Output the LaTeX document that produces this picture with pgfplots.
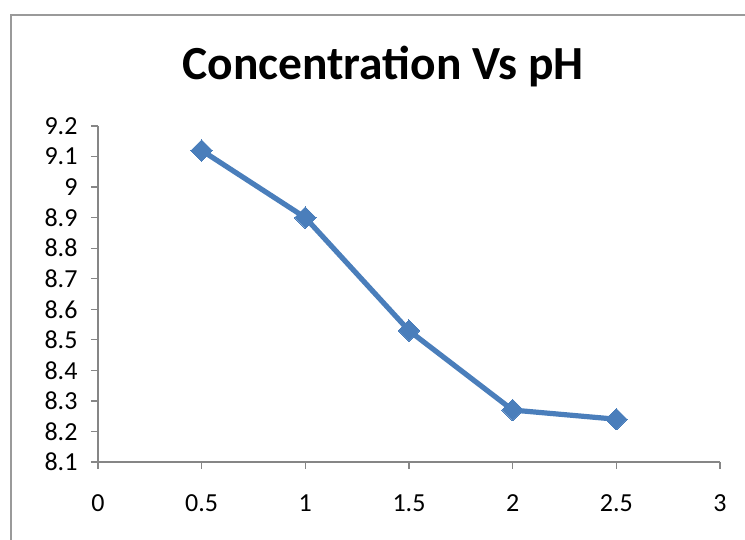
\documentclass[border=0pt]{standalone}
\usepackage{pgfplots}
\pgfplotsset{compat=1.18}
\usepackage{fontspec}
\setmainfont{Carlito}
\definecolor{serblue}{HTML}{4A7EBB}
\definecolor{axgray}{HTML}{868686}
\definecolor{framegray}{HTML}{9A9A9A}

\begin{document}
\begin{tikzpicture}[x=1pt,y=1pt]
    % picture area, in pixels of the reference, origin at the axis' lower left corner
    \useasboundingbox (-98,-78) rectangle (647,462);
    \draw[framegray, line width=1.6pt] (-87,-80) -- (-87,447) -- (650,447);
    \node[font=\bfseries\fontsize{47.5}{47.5}\selectfont, anchor=base] at (285,382) {Concentration Vs pH};
    \begin{axis}[
        width=622pt, height=336pt, scale only axis,
        xmin=0, xmax=3, ymin=8.1, ymax=9.2,
        xtick={0,0.5,1,1.5,2,2.5,3},
        ytick={8.1,8.2,8.3,8.4,8.5,8.6,8.7,8.8,8.9,9,9.1,9.2},
        axis x line*=bottom, axis y line*=left,
        axis line style={axgray, line width=1.2pt},
        tick style={axgray, line width=1.2pt},
        tick align=outside, major tick length=7pt,
        /pgf/number format/assume math mode=true,
        ticklabel style={font=\fontsize{26}{26}\selectfont, text=black},
        xticklabel style={yshift=-22pt},
        yticklabel style={xshift=-10pt},
        clip=false,
    ]
        \addplot[serblue, line width=5.2pt, mark=square*, mark size=7.6pt,
            mark options={solid, rotate=45, line width=0pt}] coordinates {
            (0.5,9.12)
            (1,8.90)
            (1.5,8.53)
            (2,8.27)
            (2.5,8.24)
        };
    \end{axis}
\end{tikzpicture}
\end{document}
